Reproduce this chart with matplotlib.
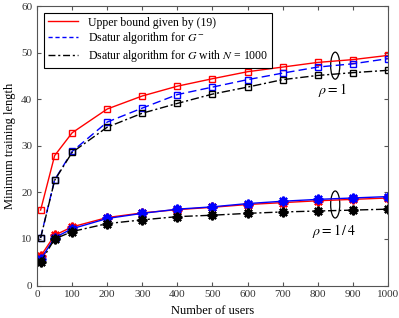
import matplotlib.pyplot as plt
from matplotlib.lines import Line2D
from matplotlib.patches import Ellipse

plt.rcParams['font.family'] = ['Liberation Serif', 'DejaVu Serif']
plt.rcParams['mathtext.fontset'] = 'stix'

# Data
users = [10, 50, 100, 200, 300, 400, 500, 600, 700, 800, 900, 1000]

# rho = 1
bound_1 = [16.2, 27.9, 32.8, 37.9, 40.7, 42.8, 44.4, 45.9, 46.9, 47.9, 48.5, 49.4]
dsat_minus_1 = [10.3, 22.7, 28.8, 35.1, 38.1, 41.0, 42.6, 44.2, 45.6, 46.9, 47.6, 48.7]
dsat_g_1 = [10.2, 22.6, 28.6, 34.0, 37.0, 39.1, 41.1, 42.6, 44.2, 45.1, 45.7, 46.2]

# rho = 1/4
bound_4 = [6.3, 10.8, 12.6, 14.6, 15.6, 16.3, 16.8, 17.4, 17.8, 18.2, 18.5, 18.8]
dsat_minus_4 = [5.6, 10.3, 12.2, 14.4, 15.5, 16.4, 16.9, 17.6, 18.1, 18.5, 18.8, 19.1]
dsat_g_4 = [5.0, 10.0, 11.6, 13.3, 14.1, 14.8, 15.1, 15.5, 15.8, 16.0, 16.2, 16.4]

labels = ['Upper bound given by (19)',
          'Dsatur algorithm for $G^{-}$',
          'Dsatur algorithm for $G$ with $N$ = 1000']

fig = plt.figure(figsize=(3.99, 3.18), dpi=100)
ax = fig.add_axes([0.093, 0.102, 0.879, 0.879])

sq = dict(marker='s', markersize=5, markerfacecolor='none', markeredgewidth=1.0)
ast = dict(marker=(8, 2, 0), markersize=7, markeredgewidth=1.6)
dashdot = (0, (6, 2, 1.5, 2))

ax.plot(users, bound_1, color='red', lw=1.0, **sq)
ax.plot(users, dsat_minus_1, color='blue', lw=1.0, ls=(0, (6, 3)), **sq)
ax.plot(users, dsat_g_1, color='black', lw=1.0, ls=dashdot, **sq)

ax.plot(users, bound_4, color='red', lw=1.0, **ast)
ax.plot(users, dsat_minus_4, color='blue', lw=1.0, **ast)
ax.plot(users, dsat_g_4, color='black', lw=1.0, ls=dashdot, **ast)

# group markers
ax.add_patch(Ellipse((850, 47.2), 26, 5.8, fill=False, lw=0.9, color='black'))
ax.add_patch(Ellipse((850, 17.4), 26, 5.8, fill=False, lw=0.9, color='black'))
ax.text(842, 42.0, r'$\rho = 1$', ha='center', va='center', fontsize=10)
ax.text(845, 11.8, r'$\rho = 1\,/\,4$', ha='center', va='center', fontsize=10)

handles = [Line2D([], [], color='red', lw=1.0),
           Line2D([], [], color='blue', lw=1.0, ls=(0, (3, 2))),
           Line2D([], [], color='black', lw=1.0, ls=(0, (5, 2, 1.5, 2)))]
leg = ax.legend(handles, labels, loc='upper left', bbox_to_anchor=(0.02, 0.975),
                fontsize=8.5, frameon=True, fancybox=False, edgecolor='black',
                framealpha=1, borderaxespad=0, handlelength=2.6,
                labelspacing=0.15, borderpad=0.3)
leg.get_frame().set_linewidth(0.8)

ax.set_xlim(0, 1000)
ax.set_ylim(0, 60)
ax.set_xticks([0, 100, 200, 300, 400, 500, 600, 700, 800, 900, 1000])
ax.set_yticks([0, 10, 20, 30, 40, 50, 60])
ax.tick_params(direction='in', top=True, right=True, labelsize=8, length=3,
               color='#555555', labelcolor='#333333')
for s in ax.spines.values():
    s.set_color('#555555')
    s.set_linewidth(0.8)

ax.set_xlabel('Number of users', fontsize=9)
ax.set_ylabel('Minimum training length', fontsize=9)

fig.savefig('out.png', dpi=100)
